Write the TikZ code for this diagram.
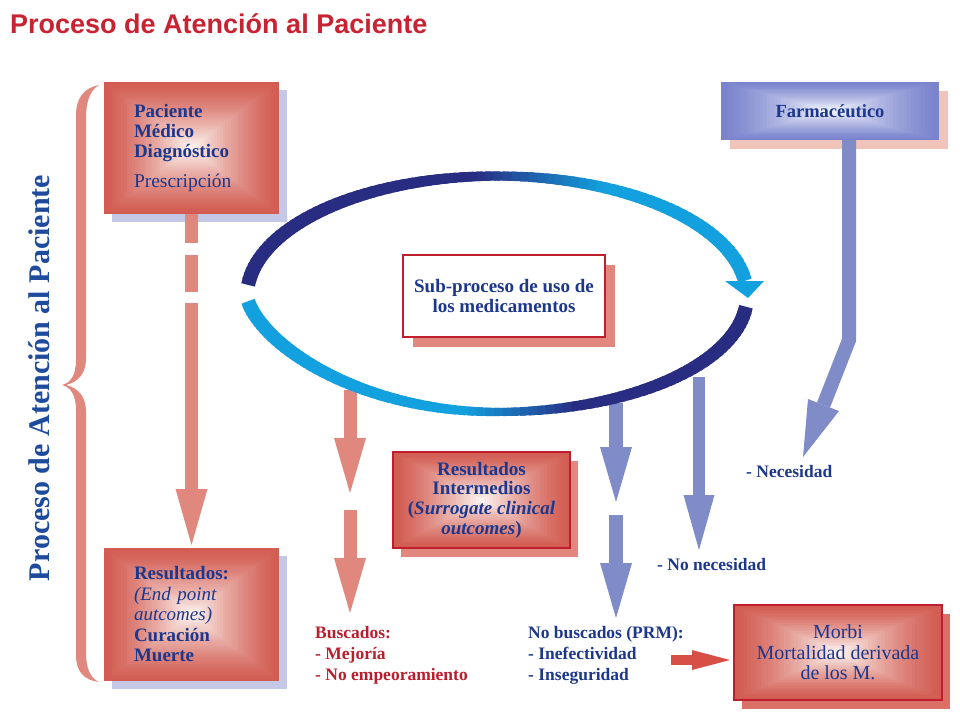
\documentclass[tikz,border=0pt]{standalone}
\usepackage{fontspec}
\setmainfont{Liberation Serif}
\newfontfamily\titlefont{Liberation Sans}
\usetikzlibrary{calc,shadows}
\definecolor{titlered}{RGB}{200,35,50}
\definecolor{labred}{RGB}{185,30,45}
\definecolor{txtblue}{RGB}{28,55,140}
\definecolor{vblue}{RGB}{30,75,155}
\definecolor{salmon}{RGB}{224,136,126}
\definecolor{boxout}{RGB}{210,92,82}
\definecolor{boxin}{RGB}{252,242,238}
\definecolor{bordred}{RGB}{190,30,45}
\definecolor{lav}{RGB}{196,200,230}
\definecolor{shsalmon}{RGB}{226,135,125}
\definecolor{shdark}{RGB}{220,112,102}
\definecolor{shlight}{RGB}{240,196,186}
\definecolor{blueout}{RGB}{122,132,205}
\definecolor{bluein}{RGB}{242,244,253}
\definecolor{arrblue}{RGB}{128,140,200}
\definecolor{navy}{RGB}{40,45,130}
\definecolor{cyanb}{RGB}{18,160,222}
\definecolor{smallred}{RGB}{215,80,72}
\newcommand\fsz[2]{\fontsize{#1}{#2}\selectfont}
\tikzset{
  gradfill/.style n args={3}{path picture={%
    \foreach \i in {0,...,#3}{%
      \pgfmathsetmacro\t{0.5*\i/(#3+1)}%
      \pgfmathtruncatemacro\pc{round(100*(\i/#3)^1.3)}%
      \fill[#2!\pc!#1] ($(path picture bounding box.north west)!\t!(path picture bounding box.south east)$) rectangle ($(path picture bounding box.south east)!\t!(path picture bounding box.north west)$);
    }}},
  redbox/.style={rectangle, inner sep=0pt, text=txtblue, gradfill={boxout}{boxin}{30}},
  bluebox/.style={rectangle, inner sep=0pt, text=txtblue, gradfill={blueout}{bluein}{30}},
  lbl/.style={anchor=base west, inner sep=0pt, font=\bfseries\fsz{17.5}{20}},
  redstem/.style={draw=salmon, line width=13pt},
  bluestem/.style={draw=arrblue, line width=14pt},
}
\begin{document}
\begin{tikzpicture}[x=1pt,y=-1pt]
\fill[white] (0,0) rectangle (960,720);
\useasboundingbox (0,0) rectangle (960,720);

% title
\node[anchor=base west, inner sep=0pt, text=titlered, font=\titlefont\bfseries\fsz{27}{30}] (title) at (10,33) {Proceso de Atención al Paciente};

% vertical title and brace
\node[rotate=90, inner sep=0pt, text=vblue, font=\bfseries\fsz{30}{31}] (vtitle) at (39,378) {Proceso de Atención al Paciente};
\fill[salmon] (99,85) .. controls (84,88) and (76,98) .. (76,115) -- (76,360) .. controls (76,376) and (70,383) .. (62,385) .. controls (70,387) and (76,394) .. (76,410) -- (76,655) .. controls (76,672) and (84,680) .. (99,682) .. controls (90,678) and (86,668) .. (86,652) -- (86,412) .. controls (86,396) and (78,388) .. (66,385) .. controls (78,382) and (86,374) .. (86,358) -- (86,118) .. controls (86,102) and (90,90) .. (99,85) -- cycle;

% boxes
\node[redbox, general shadow={fill=lav, shadow xshift=8pt, shadow yshift=-8pt}, minimum width=175pt, minimum height=132pt, text width=115pt, align=left, font=\fsz{19}{20}] (b1) at (191.5,148)
  {\textbf{Paciente}\\\textbf{Médico}\\\textbf{Diagnóstico}\\[10pt]{\fsz{19.5}{20}Prescripción}};
\node[redbox, general shadow={fill=lav, shadow xshift=8pt, shadow yshift=-8pt}, minimum width=175pt, minimum height=133pt, text width=115pt, align=left, font=\fsz{19}{20.5}] (b2) at (191.5,614.5)
  {\textbf{Resultados:}\\\textit{(End point}\\\textit{autcomes)}\\\textbf{Curación}\\\textbf{Muerte}};
\node[bluebox, general shadow={fill=shlight, shadow xshift=9pt, shadow yshift=-9pt}, minimum width=218pt, minimum height=58pt, font=\bfseries\fsz{18.5}{20}] (farm) at (830,111) {Farmacéutico};
\node[rectangle, inner sep=0pt, fill=white, draw=bordred, line width=2.5pt, text=txtblue, general shadow={fill=shsalmon, shadow xshift=10pt, shadow yshift=-10pt}, minimum width=202pt, minimum height=82pt, align=center, font=\bfseries\fsz{19}{20.5}] (sub) at (504,296)
  {Sub-proceso de uso de\\los medicamentos};
\node[redbox, draw=bordred, line width=2.5pt, general shadow={fill=shsalmon, shadow xshift=8pt, shadow yshift=-9pt}, minimum width=177pt, minimum height=96pt, align=center, font=\bfseries\fsz{19}{19.7}] (ri) at (481.5,500)
  {Resultados\\Intermedios\\(\textit{Surrogate clinical}\\\textit{outcomes})};
\node[redbox, draw=bordred, line width=2.5pt, general shadow={fill=shdark, shadow xshift=8pt, shadow yshift=-9pt}, minimum width=208pt, minimum height=95pt, align=center, font=\fsz{20}{20.5}] (morbi) at (838,652.5)
  {Morbi\\Mortalidad derivada\\de los M.};

% dashed red arrow box1 -> box2
\coordinate (s1a) at (191.5,243); \coordinate (s1b) at (191.5,255);
\coordinate (s1c) at (191.5,292); \coordinate (s1d) at (191.5,303);
\coordinate (s1e) at (191.5,491); \coordinate (t1) at (191.5,545);
\draw[redstem] (b1.south) -- (s1a);
\draw[redstem] (s1b) -- (s1c);
\draw[redstem] (s1d) -- (s1e);
\fill[salmon] (t1) -- ++(-16,-56) -- ++(32,0) -- cycle;

% Buscados red arrow
\coordinate (r2a) at (350,390); \coordinate (r2b) at (350,440); \coordinate (t2) at (350,493);
\coordinate (r2c) at (350,510); \coordinate (r2d) at (350,560); \coordinate (t3) at (350,613);
\draw[redstem] (r2a) -- (r2b);
\fill[salmon] (t2) -- ++(-16,-55) -- ++(32,0) -- cycle;
\draw[redstem] (r2c) -- (r2d);
\fill[salmon] (t3) -- ++(-16,-55) -- ++(32,0) -- cycle;

% blue arrow A
\coordinate (ba) at (616,403); \coordinate (bb) at (616,449); \coordinate (t4) at (616,502);
\coordinate (bc) at (616,515); \coordinate (bd) at (616,565); \coordinate (t5) at (616,618);
\draw[bluestem] (ba) -- (bb);
\fill[arrblue] (t4) -- ++(-16,-55) -- ++(32,0) -- cycle;
\draw[bluestem] (bc) -- (bd);
\fill[arrblue] (t5) -- ++(-16,-55) -- ++(32,0) -- cycle;

% blue arrow B
\coordinate (be) at (699,377); \coordinate (bf) at (699,497); \coordinate (t6) at (699,550);
\draw[draw=arrblue, line width=12pt] (be) -- (bf);
\fill[arrblue] (t6) -- ++(-15.5,-55) -- ++(31,0) -- cycle;

% Farmaceutico arrow
\coordinate (fs) at (849,140); \coordinate (fb) at (849,340); \coordinate (fe) at (823.5,405);
\coordinate (t7) at (803,457);
\draw[bluestem, line join=miter] (fs) -- (fb) -- (fe);
\fill[arrblue] (t7) -- (808,399) -- (839,411) -- cycle;

% small red arrow
\coordinate (ma) at (671,660); \coordinate (mb) at (693,660); \coordinate (t8) at (730,660);
\draw[draw=smallred, line width=10pt] (ma) -- (mb);
\fill[smallred] (t8) -- ++(-38,-10) -- ++(0,20) -- cycle;

% ellipse arcs
\def\cx{497}\def\cy{296}\def\rx{250}\def\ryt{120}\def\ryb{116}
\foreach \a in {174,172,...,10}{
  \pgfmathsetmacro\aa{\a+0.7}\pgfmathsetmacro\bb{\a-2.7}
  \pgfmathtruncatemacro\p{max(0,min(100,(\a-65)*3.33))}
  \pgfmathsetmacro\w{9+5*abs(cos(\a))}
  \draw[line width=\w pt, navy!\p!cyanb] ({\cx+\rx*cos(\aa)},{\cy-\ryt*sin(\aa)}) -- ({\cx+\rx*cos(\bb)},{\cy-\ryt*sin(\bb)});
}
\fill[cyanb] (725,281) -- (764,281) -- (748,298) -- cycle;
\foreach \a in {186,188,...,352}{
  \pgfmathsetmacro\aa{\a-0.7}\pgfmathsetmacro\bb{\a+2.7}
  \pgfmathtruncatemacro\p{max(0,min(100,(\a-262)*3.85))}
  \pgfmathsetmacro\w{8+6*abs(cos(\a))}
  \pgfmathsetmacro\ka{\aa<270 ? 1.3 : 1}
  \pgfmathsetmacro\kb{\bb<270 ? 1.3 : 1}
  \pgfmathsetmacro\ya{\cy+\ryb*abs(sin(\aa))^\ka}
  \pgfmathsetmacro\yb{\cy+\ryb*abs(sin(\bb))^\kb}
  \draw[line width=\w pt, navy!\p!cyanb] ({\cx+\rx*cos(\aa)},\ya) -- ({\cx+\rx*cos(\bb)},\yb);
}

% labels
\node[lbl, text=labred] (busc1) at (315,638) {Buscados:};
\node[lbl, text=labred] (busc2) at (315,659) {- Mejoría};
\node[lbl, text=labred] (busc3) at (315,680) {- No empeoramiento};
\node[lbl, text=txtblue] (nob1) at (528,638) {No buscados (PRM):};
\node[lbl, text=txtblue] (nob2) at (528,659) {- Inefectividad};
\node[lbl, text=txtblue] (nob3) at (528,680) {- Inseguridad};
\node[lbl, text=txtblue] (nec) at (746,477) {- Necesidad};
\node[lbl, text=txtblue] (nonec) at (657,570) {- No necesidad};
\end{tikzpicture}
\end{document}
